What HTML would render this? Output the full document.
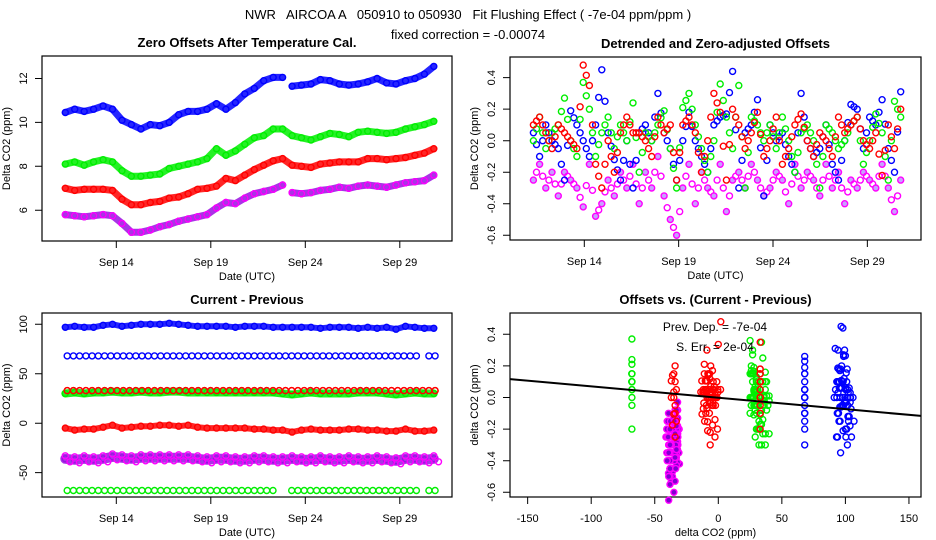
<!DOCTYPE html>
<html><head><meta charset="utf-8"><style>
html,body{margin:0;padding:0;background:#fff;}
svg{display:block;font-family:"Liberation Sans",sans-serif;}
</style></head><body>
<svg id="chart" width="936" height="540" viewBox="0 0 936 540" xmlns="http://www.w3.org/2000/svg">
<text x="468" y="19" font-size="13" text-anchor="middle" xml:space="preserve">NWR   AIRCOA A   050910 to 050930   Fit Flushing Effect ( -7e-04 ppm/ppm )</text>
<text x="468" y="39" font-size="13" text-anchor="middle">fixed correction = -0.00074</text>
</svg>
<script>
// ---------- data ----------
const days1 = [11.3,11.8,12.3,12.8,13.3,13.8,14.3,14.8,15.3,15.8,16.3,16.8,17.3,17.8,18.3,18.8,19.3,19.8,20.3,20.8,21.3,21.8,22.3,22.8,23.3,23.8,24.3,24.8,25.3,25.8,26.3,26.8,27.3,27.8,28.3,28.8,29.3,29.8,30.3,30.8];
const blueOff = [10.45,10.6,10.5,10.6,10.75,10.6,10.1,9.9,9.7,9.9,9.85,10.0,10.35,10.5,10.5,10.6,10.85,10.6,10.9,11.3,11.55,11.9,12.05,12.05,11.65,11.7,11.75,11.95,11.9,11.75,11.7,11.75,11.85,12.0,11.8,11.75,11.9,12.0,12.2,12.55];
const greenOff = [8.1,8.2,8.05,8.2,8.3,8.2,7.8,7.55,7.55,7.6,7.65,7.9,8.0,8.1,8.2,8.35,8.8,8.5,8.7,9.0,9.3,9.4,9.7,9.7,9.4,9.3,9.2,9.35,9.5,9.45,9.35,9.55,9.6,9.55,9.5,9.55,9.7,9.8,9.9,10.05];
const redOff = [7.0,6.9,6.95,6.95,6.95,6.9,6.5,6.25,6.25,6.35,6.4,6.55,6.6,6.75,6.95,7.0,7.1,7.45,7.35,7.6,7.85,8.05,8.25,8.35,8.05,8.0,7.95,8.1,8.15,8.2,8.2,8.2,8.35,8.35,8.3,8.35,8.4,8.5,8.6,8.8];
const purpleOff = [5.8,5.75,5.7,5.75,5.8,5.75,5.4,5.0,5.0,5.1,5.25,5.35,5.5,5.6,5.7,5.8,6.1,6.35,6.3,6.55,6.75,6.85,6.95,7.15,6.8,6.75,6.8,6.9,6.95,7.05,7.0,7.1,7.15,7.1,7.05,7.15,7.25,7.3,7.35,7.6];

const blueCP = [97,98,97,97,99,100,98,99,100,100,100,101,100,99,98,98,98,98,97,98,98,98,97,97,97,97,97,96,97,97,97,96,97,96,97,95,98,97,96,96];
const greenCP = [30,31,30,31,31,32,31,31,32,31,31,32,32,31,31,31,31,31,31,31,31,31,31,30,29,30,31,30,30,30,30,31,31,31,30,29,30,31,30,30];
const redCP = [-5,-7,-6,-6,-4,-2,-5,-4,-3,-3,-2,-2,-3,-2,-4,-5,-5,-5,-5,-5,-6,-6,-7,-7,-9,-7,-6,-7,-7,-7,-6,-6,-7,-7,-8,-8,-6,-8,-8,-7];
const purpleCP = [-36,-37,-36,-37,-36,-34,-35,-36,-35,-35,-35,-35,-35,-35,-36,-37,-36,-36,-37,-37,-36,-36,-37,-37,-36,-37,-37,-36,-37,-37,-36,-37,-37,-36,-37,-38,-36,-36,-37,-36];
const constLevels = [68, 33, -68];   // blue, red, green fixed-step series
const constColors = ["#0000ff", "#ff0000", "#00ee00"];

const blueDet = [0.05,-0.1,0.1,0.0,-0.05,-0.25,0.19,0.1,0.0,-0.1,0.1,0.45,0.05,-0.12,-0.25,0.0,-0.3,0.05,0.1,0.0,0.3,0.05,-0.05,-0.25,0.0,0.18,0.0,-0.1,-0.2,0.1,0.15,0.17,0.44,-0.3,0.05,0.1,0.26,-0.35,0.1,0.0,0.05,-0.1,-0.2,0.3,0.0,-0.1,-0.05,0.1,-0.15,-0.25,0.0,0.23,0.2,-0.05,0.15,0.1,0.26,-0.05,-0.2,0.31];
const greenDet = [0.0,0.15,-0.05,0.05,0.1,0.27,0.0,-0.1,0.37,0.2,-0.1,0.05,0.15,-0.05,0.1,0.0,0.24,-0.2,0.05,0.0,0.1,0.19,-0.05,-0.3,0.21,0.3,0.1,-0.05,-0.2,0.0,0.36,0.15,-0.05,0.35,-0.3,0.15,0.1,0.0,0.1,-0.05,0.15,0.0,-0.2,0.05,0.1,0.0,-0.3,0.1,0.05,-0.05,0.0,0.1,0.15,-0.15,0.0,0.17,0.05,-0.25,0.25,0.15];
const redDet = [0.1,0.15,0.05,-0.05,0.1,0.05,0.0,-0.05,0.48,0.35,-0.15,-0.3,0.0,-0.2,0.05,0.15,0.05,0.05,0.0,-0.1,0.15,0.05,0.1,-0.25,0.1,0.15,0.05,-0.2,0.0,0.3,0.18,-0.25,0.2,0.1,-0.05,0.05,0.18,-0.1,0.0,0.15,-0.15,-0.05,0.1,0.17,0.0,-0.1,0.05,0.0,-0.1,0.15,0.05,0.1,0.15,0.0,-0.05,0.05,-0.22,0.1,-0.05,0.2];
const purpleDet = [-0.25,-0.15,-0.3,-0.2,-0.35,-0.2,-0.25,-0.3,-0.42,-0.15,-0.48,-0.4,-0.25,-0.35,-0.2,-0.3,-0.15,-0.4,-0.2,-0.3,-0.1,-0.35,-0.5,-0.6,-0.3,-0.15,-0.4,-0.2,-0.3,-0.35,-0.15,-0.45,-0.25,-0.2,-0.3,-0.15,-0.25,-0.35,-0.3,-0.2,-0.25,-0.4,-0.15,-0.3,-0.2,-0.25,-0.35,-0.15,-0.3,-0.2,-0.4,-0.25,-0.3,-0.2,-0.25,-0.3,-0.15,-0.3,-0.45,-0.25];
const detStart = 11.3, detStep = 0.33;

const fitSlope = -0.00072, fitIntercept = 0.0;
const dayTicks = [14,19,24,29];
const dayTickLabels = ["Sep 14","Sep 19","Sep 24","Sep 29"];
const off1Ticks = [6,8,10,12];
const detTicks = [0.4,0.2,0.0,-0.2,-0.4,-0.6];
const detTickLabels = ["0.4","0.2","0.0","-0.2","-0.4","-0.6"];
const cpTicks = [100,50,0,-50];
const cp4Ticks = [-150,-100,-50,0,50,100,150];

// ---------- helpers ----------
const svg = document.getElementById('chart');
const NS = 'http://www.w3.org/2000/svg';
function mk(tag, parent){ const e=document.createElementNS(NS,tag); parent.appendChild(e); return e; }
function group(parent,name){ const g=mk('g',parent);
  
  
  return g; }
const P = {
  p1:{l:42,r:452,t:56,b:241, x:d=>116.3+(d-14)*18.9, y:v=>122.4-(v-10)*21.95},
  p2:{l:510,r:921,t:57,b:240, x:d=>584.3+(d-14)*18.87, y:v=>140.7-v*157.6},
  p3:{l:42,r:452,t:313,b:497, x:d=>116.3+(d-14)*18.9, y:v=>423.2-v*0.989},
  p4:{l:510,r:921,t:313,b:497, x:v=>718.3+v*1.271, y:v=>397.5-v*158}
};
function frame(p, name, title, xlab, ylab, xt, xtl, yt, ytl){
  const g=group(svg,name);
  const r=mk('rect',g);
  
  
  r.setAttribute('x',p.l); r.setAttribute('y',p.t); r.setAttribute('width',p.r-p.l); r.setAttribute('height',p.b-p.t);
  r.setAttribute('fill','none'); r.setAttribute('stroke','#000'); r.setAttribute('stroke-width','1.2');
  const t=mk('text',g);
  
  
  t.setAttribute('x',(p.l+p.r)/2); t.setAttribute('y',p.t-9); t.setAttribute('text-anchor','middle');
  t.setAttribute('font-size','13'); t.setAttribute('font-weight','bold'); t.textContent=title;
  const ax=mk('path',g);
  
  
  let d='M'+p.x(xt[0])+' '+p.b+'H'+p.x(xt[xt.length-1]);
  xt.forEach((v,i)=>{ const x=p.x(v); d+='M'+x+' '+p.b+'V'+(p.b+7);
    const lt=mk('text',g);
    
    
    lt.setAttribute('x',x); lt.setAttribute('y',p.b+25); lt.setAttribute('text-anchor','middle'); lt.setAttribute('font-size','11');
    lt.textContent=xtl[i]; });
  ax.setAttribute('d',d); ax.setAttribute('stroke','#000'); ax.setAttribute('fill','none');
  const ay=mk('path',g);
  
  
  let d2='M'+p.l+' '+p.y(yt[0])+'V'+p.y(yt[yt.length-1]);
  yt.forEach((v,i)=>{ const y=p.y(v); d2+='M'+p.l+' '+y+'H'+(p.l-7);
    const lt=mk('text',g);
    
    
    const cx=p.l-19;
    lt.setAttribute('x',cx); lt.setAttribute('y',y); lt.setAttribute('text-anchor','middle'); lt.setAttribute('font-size','11');
    lt.setAttribute('transform','rotate(-90 '+cx+' '+y+')'); lt.setAttribute('dy','4');
    lt.textContent=ytl[i]; });
  ay.setAttribute('d',d2); ay.setAttribute('stroke','#000'); ay.setAttribute('fill','none');
  const xl=mk('text',g);
  
  
  xl.setAttribute('x',(p.l+p.r)/2); xl.setAttribute('y',p.b+39); xl.setAttribute('text-anchor','middle'); xl.setAttribute('font-size','11');
  xl.textContent=xlab;
  const yl=mk('text',g);
  
  
  const yx=p.l-32, yy=(p.t+p.b)/2;
  yl.setAttribute('x',yx); yl.setAttribute('y',yy); yl.setAttribute('text-anchor','middle'); yl.setAttribute('font-size','11');
  yl.setAttribute('transform','rotate(-90 '+yx+' '+yy+')'); yl.textContent=ylab;
}
function dot(g,x,y,col,fill){
  const c=mk('circle',g);
  
  
  c.setAttribute('cx',x.toFixed(1)); c.setAttribute('cy',y.toFixed(1)); c.setAttribute('r','3');
  c.setAttribute('fill',fill||'none'); c.setAttribute('stroke',col); c.setAttribute('stroke-width','1.4');
}
function band(g,p,xs,vals,col,w,breakAt,fill){
  const pa=mk('path',g);
  
  
  pa.setAttribute('d', vals.map((v,i)=>((i===0||i===breakAt)?'M':'L')+p.x(xs[i]).toFixed(1)+' '+p.y(v).toFixed(1)).join(''));
  pa.setAttribute('fill','none'); pa.setAttribute('stroke',col); pa.setAttribute('stroke-width',w);
  pa.setAttribute('stroke-opacity','0.85');
  pa.setAttribute('stroke-linejoin','round'); pa.setAttribute('stroke-linecap','round');
  vals.forEach((v,i)=>dot(g,p.x(xs[i]),p.y(v),col,fill));
}
const PURPLE='#9a10e0', MAG='#ff00ff';

// ---------- panel 1 ----------
frame(P.p1,'offsets-panel','Zero Offsets After Temperature Cal.','Date (UTC)','Delta CO2 (ppm)',dayTicks,dayTickLabels,off1Ticks,off1Ticks.map(String));
const g1=group(svg,'offsets-series');
band(g1,P.p1,days1,blueOff,'#0000ff',7,24);
band(g1,P.p1,days1,greenOff,'#00ee00',7);
band(g1,P.p1,days1,redOff,'#ff0000',7);
band(g1,P.p1,days1,purpleOff,PURPLE,7,24);
purpleOff.forEach((v,i)=>dot(g1,P.p1.x(days1[i]),P.p1.y(v),MAG));

// ---------- panel 2 ----------
frame(P.p2,'detrended-panel','Detrended and Zero-adjusted Offsets','Date (UTC)','Delta CO2 (ppm)',dayTicks,dayTickLabels,detTicks,detTickLabels);
const g2=group(svg,'detrended-series');
[[purpleDet,MAG],[blueDet,'#0000ff'],[greenDet,'#00ee00'],[redDet,'#ff0000']].forEach(([arr,col])=>{
  arr.forEach((v,i)=>{ const d=detStart+i*detStep; dot(g2,P.p2.x(d),P.p2.y(v),col, col===MAG?'#c8a0ff':null);
    if(i+1<arr.length) dot(g2,P.p2.x(d+detStep/2),P.p2.y((v+arr[i+1])/2),col); });
});

// ---------- panel 3 ----------
frame(P.p3,'current-previous-panel','Current - Previous','Date (UTC)','Delta CO2 (ppm)',dayTicks,dayTickLabels,cpTicks,cpTicks.map(String));
const g3=group(svg,'current-previous-series');
constLevels.forEach((lv,k)=>{
  for(let d=11.4; d<30.9; d+=0.33){ if(k!==1 && d>29.9 && d<30.3) continue;
    if(k===2 && d>22.6 && d<23.1) continue;
    dot(g3,P.p3.x(d),P.p3.y(lv),constColors[k]); }
});
band(g3,P.p3,days1,greenCP,'#00ee00',8);
constLevels.slice(1,2).forEach(lv=>{ for(let d=11.4; d<30.9; d+=0.33) dot(g3,P.p3.x(d),P.p3.y(lv),'#ff0000'); });
band(g3,P.p3,days1,blueCP,'#0000ff',6);
band(g3,P.p3,days1,redCP,'#ff0000',6);
band(g3,P.p3,days1,purpleCP,PURPLE,10);
purpleCP.forEach((v,i)=>{ dot(g3,P.p3.x(days1[i]),P.p3.y(v+3),MAG); dot(g3,P.p3.x(days1[i]+0.25),P.p3.y(v-3),MAG); });

// ---------- panel 4 ----------
frame(P.p4,'offsets-vs-cp-panel','Offsets vs. (Current - Previous)','delta CO2 (ppm)','delta CO2 (ppm)',cp4Ticks,cp4Ticks.map(String),detTicks,detTickLabels);
const g4=group(svg,'offsets-vs-cp-series');
const n=blueDet.length, idx=i=>Math.min(39,Math.floor(i*40/n));
const jit=[-6,-3,0,3,6,-4,2,-1,5,-5];
purpleDet.forEach((v,i)=>{ const x0=purpleCP[idx(i)];
  dot(g4,P.p4.x(x0+jit[i%10]*0.7),P.p4.y(v),MAG,'#8000d0');
  dot(g4,P.p4.x(x0+3),P.p4.y(v+0.07),MAG,'#8000d0');
  dot(g4,P.p4.x(x0-2),P.p4.y(v-0.05),MAG,'#8000d0'); });
greenDet.forEach((v,i)=>{ const x = i%4===0 ? constLevels[2] : greenCP[idx(i)]+jit[i%10]; dot(g4,P.p4.x(x),P.p4.y(v),'#00ee00'); if(i%4) dot(g4,P.p4.x(x+3),P.p4.y(v*0.6-0.05),'#00ee00'); });
redDet.forEach((v,i)=>{ let x = i%3===0 ? constLevels[1] : redCP[idx(i)]+jit[i%10]*0.8; if(i%7===3) x=purpleCP[idx(i)]+2; dot(g4,P.p4.x(x),P.p4.y(v),'#ff0000'); if(i%3) dot(g4,P.p4.x(x-2),P.p4.y(v*0.7),'#ff0000'); });
blueDet.forEach((v,i)=>{ const x = i%3===0 ? constLevels[0] : blueCP[idx(i)]+jit[i%10]*0.8; dot(g4,P.p4.x(x),P.p4.y(v),'#0000ff'); if(i%3) dot(g4,P.p4.x(x+2),P.p4.y(v*0.6),'#0000ff'); });
const fl=mk('line',g4);


fl.setAttribute('x1',P.p4.l); fl.setAttribute('x2',P.p4.r);
fl.setAttribute('y1',P.p4.y(fitIntercept+fitSlope*(-162))); fl.setAttribute('y2',P.p4.y(fitIntercept+fitSlope*162));
fl.setAttribute('stroke','#000'); fl.setAttribute('stroke-width','2');
[['slope-annotation','Prev. Dep. =  -7e-04',331],['stderr-annotation','S. Err. =  2e-04',351]].forEach(([nm,tx,y])=>{
  const t=mk('text',g4);
  
  
  t.setAttribute('x',715); t.setAttribute('y',y); t.setAttribute('text-anchor','middle'); t.setAttribute('font-size','12');
  t.setAttribute('xml:space','preserve'); t.textContent=tx; });
</script>
</body></html>
